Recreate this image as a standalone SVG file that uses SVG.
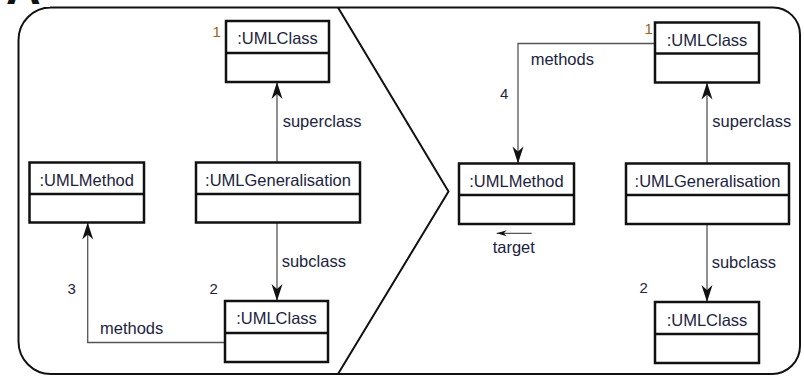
<svg xmlns="http://www.w3.org/2000/svg" width="804" height="376" viewBox="0 0 804 376">
<style>
  .box{fill:#fff;stroke:#111;stroke-width:2.5}
  .div{stroke:#111;stroke-width:2.5}
  .conn{fill:none;stroke:#555;stroke-width:1.3}
  .lbl{font-family:"Liberation Sans",Arial,sans-serif;font-size:16.5px;fill:#1c2340}
  .num{font-family:"Liberation Sans",Arial,sans-serif;font-size:15px;fill:#1c2340}
  .num1{font-family:"Liberation Sans",Arial,sans-serif;font-size:15px;fill:#a0621e}
  .name{font-family:"Liberation Sans",Arial,sans-serif;font-size:16.5px;fill:#1c2340;text-anchor:middle}
  .frame{fill:none;stroke:#111;stroke-width:2}
</style>
<defs>
  <marker id="arr" markerUnits="userSpaceOnUse" markerWidth="20" markerHeight="14" viewBox="-18 -7 20 14" refX="0" refY="0" orient="auto">
    <path d="M0,0 L-17,-5.5 L-12,0 L-17,5.5 Z" fill="#111"/>
  </marker>
  <marker id="arrs" markerUnits="userSpaceOnUse" markerWidth="12" markerHeight="8" viewBox="-10 -4 12 8" refX="0" refY="0" orient="auto">
    <path d="M0,0 L-10,-3 L-7,0 L-10,3 Z" fill="#111"/>
  </marker>
</defs>
<rect width="804" height="376" fill="#fff"/>
<text x="6" y="4" font-family="Liberation Sans,Arial,sans-serif" font-weight="bold" font-size="48" fill="#111">A</text>
<g id="frame">
  <path class="frame" d="M50,7.5 H773 A27,27 0 0 1 800,34.5 V346 A28,28 0 0 1 772,374 H51 A32.5,32.5 0 0 1 18.5,341.5 V40 A32.5,32.5 0 0 1 51,7.5 Z"/>
  <path class="frame" d="M338,7.5 L448.5,191.5 L338,374"/>
</g>
<g id="connectors">
  <path class="conn" d="M277,162.5 V82" marker-end="url(#arr)"/>
  <path class="conn" d="M277,222.5 V301" marker-end="url(#arr)"/>
  <path class="conn" d="M225,342.5 H87.7 V222.5" marker-end="url(#arr)"/>
  <path class="conn" d="M655,43.5 H518 V163.5" marker-end="url(#arr)"/>
  <path class="conn" d="M707,163.5 V82.5" marker-end="url(#arr)"/>
  <path class="conn" d="M707,224 V302" marker-end="url(#arr)"/>
  <path class="conn" d="M531.7,233.3 H496.7" marker-end="url(#arrs)"/>
  <text class="lbl" x="282.7" y="127">superclass</text>
  <text class="lbl" x="281.7" y="267">subclass</text>
  <text class="lbl" x="100" y="334">methods</text>
  <text class="num1" x="212.5" y="36.5">1</text>
  <text class="num" x="209.5" y="294">2</text>
  <text class="num" x="67.5" y="294">3</text>
  <text class="lbl" x="530.7" y="65">methods</text>
  <text class="num1" x="644.5" y="34">1</text>
  <text class="num" x="500" y="99">4</text>
  <text class="lbl" x="712.3" y="127">superclass</text>
  <text class="lbl" x="711.7" y="267.7">subclass</text>
  <text class="num" x="639.5" y="293">2</text>
  <text class="lbl" x="492.7" y="252.7">target</text>
</g>
<g id="L1">
  <rect class="box" x="226" y="21" width="103" height="61"/>
  <line class="div" x1="226" y1="53" x2="329" y2="53"/>
  <text class="name" x="277.5" y="44">:UMLClass</text>
</g>
<g id="LM">
  <rect class="box" x="29.5" y="162.5" width="114.5" height="60"/>
  <line class="div" x1="29.5" y1="194" x2="144" y2="194"/>
  <text class="name" x="86.7" y="185.5">:UMLMethod</text>
</g>
<g id="LG">
  <rect class="box" x="196" y="162.5" width="164" height="60"/>
  <line class="div" x1="196" y1="194" x2="360" y2="194"/>
  <text class="name" x="278" y="185.5">:UMLGeneralisation</text>
</g>
<g id="L2">
  <rect class="box" x="225" y="301" width="103" height="61"/>
  <line class="div" x1="225" y1="333" x2="328" y2="333"/>
  <text class="name" x="276.5" y="324">:UMLClass</text>
</g>
<g id="R1">
  <rect class="box" x="655" y="22.5" width="104" height="60"/>
  <line class="div" x1="655" y1="53.5" x2="759" y2="53.5"/>
  <text class="name" x="707" y="45.5">:UMLClass</text>
</g>
<g id="RM">
  <rect class="box" x="459" y="163.5" width="115" height="60.5"/>
  <line class="div" x1="459" y1="195" x2="574" y2="195"/>
  <text class="name" x="516.5" y="186.5">:UMLMethod</text>
</g>
<g id="RG">
  <rect class="box" x="626" y="163.5" width="163" height="60.5"/>
  <line class="div" x1="626" y1="195" x2="789" y2="195"/>
  <text class="name" x="707.5" y="186.5">:UMLGeneralisation</text>
</g>
<g id="R2">
  <rect class="box" x="655" y="302" width="104" height="61"/>
  <line class="div" x1="655" y1="334" x2="759" y2="334"/>
  <text class="name" x="707" y="325.5">:UMLClass</text>
</g>
</svg>
